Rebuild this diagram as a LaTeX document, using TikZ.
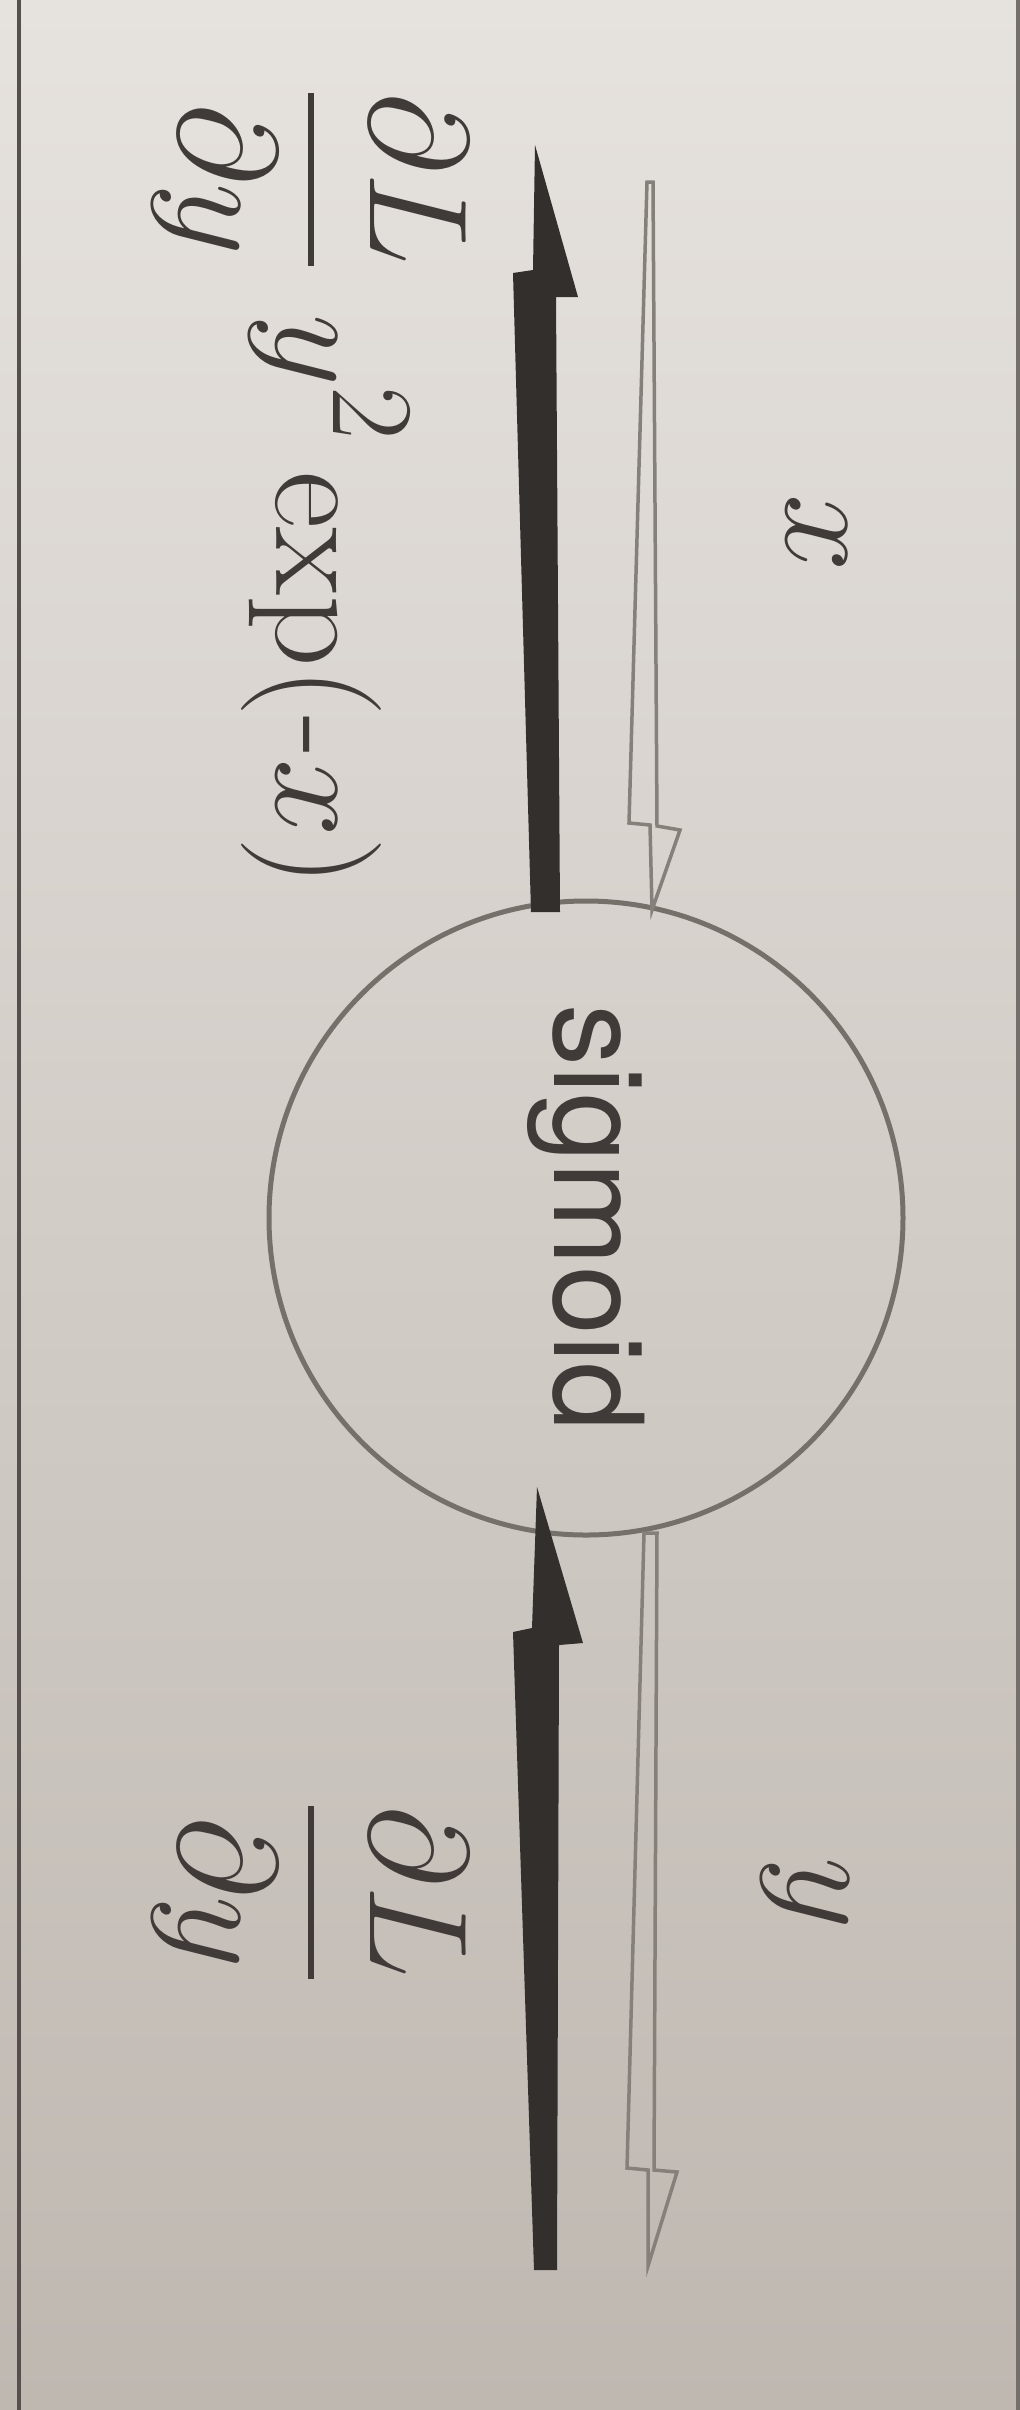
\documentclass[tikz,border=0pt]{standalone}
\usepackage{fontspec}
\newfontfamily\heros{TeX Gyre Heros}
\definecolor{paperTop}{HTML}{E6E2DE}
\definecolor{paperBot}{HTML}{BFB8B1}
\definecolor{ink}{HTML}{332F2D}
\definecolor{txt}{HTML}{403B38}
\definecolor{circ}{HTML}{76706B}
\definecolor{thin}{HTML}{86807B}
\definecolor{rule}{HTML}{55504D}
\newcommand{\dLdy}{{\displaystyle\partial L\above1pt\partial y}}
\begin{document}
\begin{tikzpicture}[x=1pt,y=-1pt,
  lbl/.style={inner sep=0pt, rotate=-90, scale=5.627, text=txt, font=\Huge},
  fwdarrow/.style={draw=thin, line width=3.5pt, line join=miter},
  bwdarrow/.style={fill=ink, draw=none}]
\useasboundingbox (0,0) rectangle (1020,2410);
\shade[top color=paperTop, bottom color=paperBot] (0,0) rectangle (1020,2410);
% page borders
\draw[rule, line width=4pt] (19,0) -- (19,2410);
\draw[rule!70!paperBot, line width=5pt] (1018,0) -- (1018,2410);
% sigmoid node
\node[circle, draw=circ, line width=5pt, minimum size=634pt, inner sep=0pt,
      rotate=-90, text=txt, font=\heros\fontsize{124}{150}\selectfont] (sig) at (586,1218) {sigmoid};
% named end points
\coordinate (xin) at (650,182);
\coordinate (yout) at (648,2266);
\coordinate (gin) at (546,2270);
\coordinate (gout) at (535,145);
% forward arrow x -> sigmoid
\draw[fwdarrow] (647,182) -- (653,182) -- (657,826) -- (680,830) -- (652,910) -- (650,825) -- (629,823) -- cycle;
% forward arrow sigmoid -> y
\draw[fwdarrow] (644,1533) -- (657,1533) -- (654,2170) -- (677,2172) -- (648,2266) -- (648,2170) -- (627,2168) -- cycle;
% backward arrow sigmoid -> x side
\fill[bwdarrow] (535,145) -- (578,297) -- (556,297) -- (560,912) -- (531,912) -- (513,273) -- (533,270) -- cycle;
% backward arrow y side -> sigmoid
\fill[bwdarrow] (537,1487) -- (583,1643) -- (559,1645) -- (557,2270) -- (534,2270) -- (513,1632) -- (532,1628) -- cycle;
% labels
\node[lbl, anchor=base] (xl) at (786,533) {$x$};
\node[lbl, anchor=base] (yl) at (788,1893) {$y$};
\node[lbl, anchor=base west] (gl) at (276,85) {$\displaystyle\dLdy$\hspace{0.3em}$\displaystyle y^{2}$\hspace{0.2em}exp(-$x$)};
\node[lbl, anchor=base west] (gr) at (276,1798) {$\displaystyle\dLdy$};
\end{tikzpicture}
\end{document}
